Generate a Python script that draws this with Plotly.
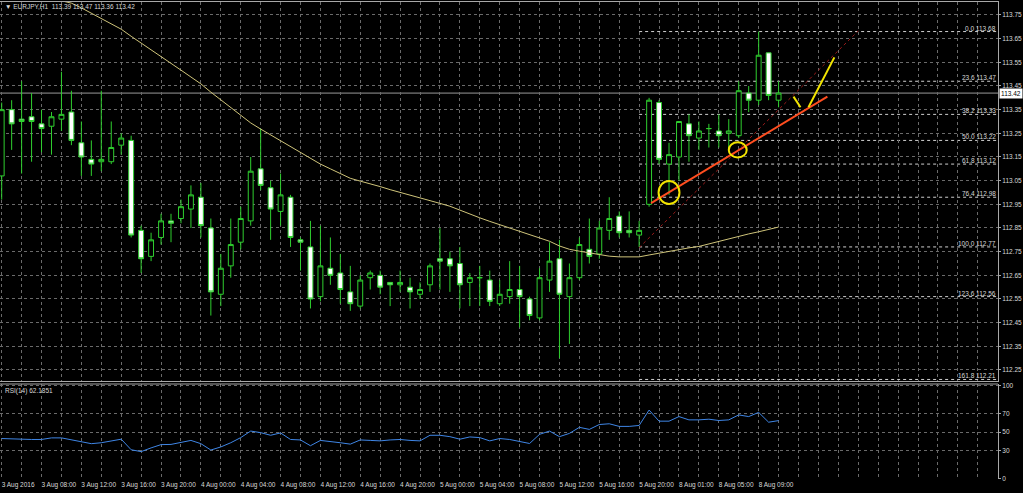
import plotly.graph_objects as go

# ---------------- data (EURJPY H1, candle index 0 = first visible bar) ----------------
opens = [113.07, 113.35, 113.31, 113.32, 113.29, 113.28, 113.31, 113.34, 113.21, 113.14,
         113.13, 113.13, 113.20, 113.22, 112.84, 112.73, 112.81, 112.88, 112.89, 112.93,
         112.98, 112.85, 112.57, 112.69, 112.79, 112.88, 113.10, 113.02, 112.92, 112.98,
         112.80, 112.77, 112.56, 112.68, 112.66, 112.58, 112.52, 112.64, 112.65, 112.62,
         112.61, 112.60, 112.57, 112.61, 112.72, 112.72, 112.70, 112.62, 112.64, 112.63,
         112.53, 112.56, 112.59, 112.55, 112.47, 112.63, 112.72, 112.56, 112.64, 112.76,
         112.74, 112.84, 112.90, 112.84, 112.82, 112.95, 113.38, 113.12, 113.15, 113.29,
         113.23, 113.27, 113.26, 113.25, 113.24, 113.42, 113.39, 113.59, 113.39]
highs = [113.38, 113.39, 113.47, 113.42, 113.35, 113.34, 113.51, 113.43, 113.30, 113.22,
         113.43, 113.30, 113.25, 113.24, 112.86, 112.83, 112.91, 112.91, 112.97, 113.03,
         113.04, 112.89, 112.74, 112.89, 112.94, 113.15, 113.27, 113.05, 113.08, 112.99,
         112.81, 112.88, 112.86, 112.81, 112.74, 112.69, 112.65, 112.67, 112.67, 112.62,
         112.67, 112.64, 112.62, 112.70, 112.85, 112.75, 112.77, 112.66, 112.69, 112.67,
         112.63, 112.71, 112.69, 112.56, 112.68, 112.79, 112.80, 112.70, 112.81, 112.89,
         112.88, 112.98, 112.92, 112.92, 112.88, 113.40, 113.39, 113.21, 113.30, 113.33,
         113.30, 113.29, 113.33, 113.31, 113.47, 113.45, 113.68, 113.59, 113.47]
lows = [112.97, 113.18, 113.08, 113.13, 113.17, 113.16, 113.26, 113.20, 113.07, 113.07,
        113.09, 113.12, 113.16, 112.81, 112.66, 112.71, 112.78, 112.79, 112.87, 112.85,
        112.81, 112.48, 112.52, 112.64, 112.76, 112.86, 113.01, 112.80, 112.86, 112.77,
        112.67, 112.51, 112.54, 112.61, 112.53, 112.50, 112.51, 112.59, 112.57, 112.52,
        112.58, 112.51, 112.55, 112.58, 112.59, 112.58, 112.51, 112.52, 112.52, 112.52,
        112.52, 112.53, 112.43, 112.46, 112.46, 112.58, 112.30, 112.36, 112.63, 112.70,
        112.72, 112.80, 112.81, 112.81, 112.77, 112.94, 113.12, 112.99, 113.05, 113.13,
        113.18, 113.19, 113.19, 113.18, 113.23, 113.34, 113.37, 113.39, 113.36]
closes = [113.35, 113.29, 113.30, 113.30, 113.27, 113.32, 113.33, 113.22, 113.15, 113.12,
          113.14, 113.19, 113.23, 112.82, 112.72, 112.80, 112.88, 112.87, 112.94, 112.99,
          112.86, 112.58, 112.68, 112.78, 112.89, 113.09, 113.03, 112.93, 112.99, 112.81,
          112.79, 112.55, 112.69, 112.65, 112.59, 112.53, 112.63, 112.66, 112.60, 112.61,
          112.62, 112.58, 112.59, 112.69, 112.71, 112.69, 112.61, 112.64, 112.64, 112.54,
          112.57, 112.59, 112.56, 112.48, 112.64, 112.71, 112.57, 112.64, 112.78, 112.73,
          112.85, 112.89, 112.83, 112.83, 112.84, 113.39, 113.14, 113.16, 113.30, 113.24,
          113.26, 113.27, 113.24, 113.26, 113.43, 113.39, 113.58, 113.41, 113.42]

ma_start = 6
ma_values = [113.81, 113.80, 113.78, 113.758, 113.736, 113.713, 113.69, 113.66, 113.632, 113.604,
             113.574, 113.546, 113.517, 113.488, 113.459, 113.424, 113.391, 113.359, 113.326, 113.294,
             113.268, 113.243, 113.218, 113.193, 113.169, 113.145, 113.12, 113.10, 113.08, 113.06,
             113.048, 113.038, 113.025, 113.012, 113.001, 112.99, 112.979, 112.966, 112.954, 112.942,
             112.925, 112.909, 112.893, 112.878, 112.864, 112.851, 112.836, 112.822, 112.808, 112.794,
             112.774, 112.76, 112.752, 112.745, 112.739, 112.731, 112.728, 112.728, 112.728, 112.736,
             112.744, 112.752, 112.758, 112.766, 112.772, 112.783, 112.793, 112.804, 112.814, 112.825,
             112.834, 112.844, 112.854]

rsi_values = [43, 42.5, 42, 42, 42, 43.7, 43.7, 41.5, 39.3, 37.5,
              38.5, 40.3, 42.3, 31, 29, 33, 36.5, 36.7, 39, 41,
              37.5, 30.7, 34, 38.5, 44, 51, 49.3, 46.5, 49, 42,
              41.5, 35.3, 41, 40, 38.5, 37, 41.5, 41, 40.5, 41.5,
              42, 41, 40.5, 46.5, 46.5, 45, 42.3, 44.7, 44, 40.5,
              43, 42, 40, 37.7, 47.5, 51, 45, 48.5, 55, 52.8,
              58, 58.8, 56, 56, 57, 73.5, 61.6, 61.6, 66.5, 63,
              63, 63.7, 62.3, 63, 68.3, 66.5, 71, 60.5, 62.1851]

time_labels = ["3 Aug 2016", "3 Aug 08:00", "3 Aug 12:00", "3 Aug 16:00", "3 Aug 20:00",
               "4 Aug 00:00", "4 Aug 04:00", "4 Aug 08:00", "4 Aug 12:00", "4 Aug 16:00",
               "4 Aug 20:00", "5 Aug 00:00", "5 Aug 04:00", "5 Aug 08:00", "5 Aug 12:00",
               "5 Aug 16:00", "5 Aug 20:00", "8 Aug 01:00", "8 Aug 05:00", "8 Aug 09:00"]
time_label_step = 4

price_ticks = [112.25, 112.35, 112.45, 112.55, 112.65, 112.75, 112.85, 112.95, 113.05,
               113.15, 113.25, 113.35, 113.45, 113.55, 113.65, 113.75]
rsi_ticks = [0, 30, 50, 70, 100]

fib_levels = ["0.0", "23.6", "38.2", "50.0", "61.8", "76.4", "100.0", "123.6", "161.8"]
fib_prices = [113.68, 113.47, 113.33, 113.22, 113.12, 112.98, 112.77, 112.56, 112.21]
fib_anchor_idx = [64, 86]
fib_anchor_price = [112.767, 113.683]

trend_idx = [65.2, 82.9]
trend_price = [112.955, 113.405]
circle_idx = [67.0, 73.9]
circle_price = [113.00, 113.18]
circle_half_idx = [1.05, 0.9]
circle_half_price = [0.049, 0.0325]
tick1_idx = [79.5, 80.2]
tick1_price = [113.405, 113.36]
tick2_idx = [81.0, 83.6]
tick2_price = [113.36, 113.571]

# ---------------- styling ----------------
W, H = 1023, 493
GREEN = "#2fcf2f"
GRID = "#6a6a6a"
BORDER = "#a8a8a8"
TXT = "#d8d8d8"
FONT = "Liberation Sans, Arial, sans-serif"
FS = 6.5

plot_right = 998 / W
main_dom = [1 - 381 / H, 1 - 2 / H]
rsi_dom = [1 - 479 / H, 1 - 384 / H]
x_range = [-0.17, 100.03]
y_range = [112.2035, 113.8049]
rsi_range = [-0.32, 101.39]

idx = list(range(len(opens)))
n_slots = 100
major_vals = [i * time_label_step for i in range(len(time_labels))]
minor_vals = [k for k in range(0, n_slots + 1, 2) if k not in major_vals]

fig = go.Figure()
fig.add_trace(go.Candlestick(
    x=idx, open=opens, high=highs, low=lows, close=closes,
    increasing=dict(line=dict(color=GREEN, width=1), fillcolor="black"),
    decreasing=dict(line=dict(color=GREEN, width=1), fillcolor="white"),
    xaxis="x", yaxis="y", hoverinfo="skip", showlegend=False))
fig.add_trace(go.Scatter(
    x=list(range(ma_start, ma_start + len(ma_values))), y=ma_values, mode="lines",
    line=dict(color="#cfc47a", width=1), xaxis="x", yaxis="y", hoverinfo="skip"))
fig.add_trace(go.Scatter(
    x=idx, y=rsi_values, mode="lines", line=dict(color="#3f86e6", width=1),
    xaxis="x2", yaxis="y2", hoverinfo="skip"))

grid_common = dict(showgrid=True, gridcolor=GRID, griddash="dot", gridwidth=1, zeroline=False)
minor_grid = dict(tickmode="array", tickvals=minor_vals, showgrid=True,
                  gridcolor=GRID, griddash="dot", gridwidth=1, ticks="")

fig.update_layout(
    width=W, height=H, margin=dict(l=0, r=0, t=0, b=0, autoexpand=False),
    paper_bgcolor="black", plot_bgcolor="black", showlegend=False,
    font=dict(family=FONT, size=FS, color=TXT),
    xaxis=dict(domain=[0, plot_right], range=x_range, anchor="y",
               tickmode="array", tickvals=major_vals, showticklabels=False, ticks="",
               minor=minor_grid, showline=True, mirror=True, linecolor=BORDER,
               rangeslider=dict(visible=False), **grid_common),
    yaxis=dict(domain=main_dom, range=y_range, anchor="x", side="right",
               tickmode="array", tickvals=price_ticks,
               ticktext=[f"{p:.2f}" for p in price_ticks],
               ticks="outside", ticklen=2, tickcolor=BORDER,
               tickfont=dict(size=FS, color=TXT),
               showline=True, mirror=True, linecolor=BORDER, **grid_common),
    xaxis2=dict(domain=[0, plot_right], range=x_range, anchor="y2",
                tickmode="array", tickvals=major_vals, ticktext=time_labels,
                ticklabelposition="outside right", ticks="", tickangle=0,
                tickfont=dict(size=FS, color=TXT),
                minor=minor_grid, showline=False, **grid_common),
    yaxis2=dict(domain=rsi_dom, range=rsi_range, anchor="x2", side="right",
                tickmode="array", tickvals=rsi_ticks, ticks="outside", ticklen=2,
                tickcolor=BORDER, tickfont=dict(size=FS, color=TXT),
                showline=True, mirror=True, linecolor=BORDER, **grid_common),
)

shapes = []
# separator on top of RSI window
shapes.append(dict(type="line", xref="paper", yref="paper", x0=0, x1=plot_right,
                   y0=rsi_dom[1], y1=rsi_dom[1], line=dict(color=BORDER, width=1)))
# current price line
shapes.append(dict(type="line", xref="x domain", yref="y", x0=0, x1=1,
                   y0=closes[-1], y1=closes[-1], line=dict(color="#9a9a9a", width=1),
                   layer="below"))
# fibonacci levels
for p in fib_prices:
    shapes.append(dict(type="line", xref="x", yref="y", x0=fib_anchor_idx[0], x1=x_range[1],
                       y0=p, y1=p, line=dict(color="#cfcfcf", width=1, dash="dot"),
                       layer="below"))
shapes.append(dict(type="line", xref="x", yref="y",
                   x0=fib_anchor_idx[0], x1=fib_anchor_idx[1],
                   y0=fib_anchor_price[0], y1=fib_anchor_price[1],
                   line=dict(color="#9b1a1a", width=1, dash="dot")))
# trend line
shapes.append(dict(type="line", xref="x", yref="y", x0=trend_idx[0], x1=trend_idx[1],
                   y0=trend_price[0], y1=trend_price[1],
                   line=dict(color="#ff4d1f", width=2)))
# yellow circles
for cx, cy, hx, hy in zip(circle_idx, circle_price, circle_half_idx, circle_half_price):
    shapes.append(dict(type="circle", xref="x", yref="y", x0=cx - hx, x1=cx + hx,
                       y0=cy - hy, y1=cy + hy, line=dict(color="#f2e400", width=2)))
# yellow tick mark
shapes.append(dict(type="line", xref="x", yref="y", x0=tick1_idx[0], x1=tick1_idx[1],
                   y0=tick1_price[0], y1=tick1_price[1], line=dict(color="#f2e400", width=2)))
shapes.append(dict(type="line", xref="x", yref="y", x0=tick2_idx[0], x1=tick2_idx[1],
                   y0=tick2_price[0], y1=tick2_price[1], line=dict(color="#f2e400", width=2)))
fig.update_layout(shapes=shapes)

ann = []
for lvl, p in zip(fib_levels, fib_prices):
    ann.append(dict(xref="x domain", yref="y", x=0.9985, y=p, xanchor="right", yanchor="bottom",
                    text=f"{lvl} {p:.2f}", showarrow=False, borderpad=0, yshift=-1,
                    font=dict(size=FS, color=TXT, family=FONT)))
ann.append(dict(xref="paper", yref="y", x=999 / W, y=closes[-1], xanchor="left", yanchor="middle",
                text=f"{closes[-1]:.2f}", showarrow=False, bgcolor="white", borderpad=1,
                font=dict(size=FS, color="black", family=FONT)))
ann.append(dict(xref="paper", yref="paper", x=3 / W, y=1 - 1 / H, xanchor="left", yanchor="top",
                text=f"▼ EURJPY,H1  {opens[-1]:.2f} {highs[-1]:.2f} {lows[-1]:.2f} {closes[-1]:.2f}",
                showarrow=False, font=dict(size=FS, color=TXT, family=FONT)))
ann.append(dict(xref="paper", yref="paper", x=3 / W, y=rsi_dom[1] - 1 / H, xanchor="left",
                yanchor="top", text=f"RSI(14) {rsi_values[-1]:.4f}", showarrow=False,
                font=dict(size=FS, color=TXT, family=FONT)))
fig.update_layout(annotations=ann)

fig.write_html("out.html", config={"displayModeBar": False},
               post_script="document.body.style.margin='0';document.body.style.background='black';")
